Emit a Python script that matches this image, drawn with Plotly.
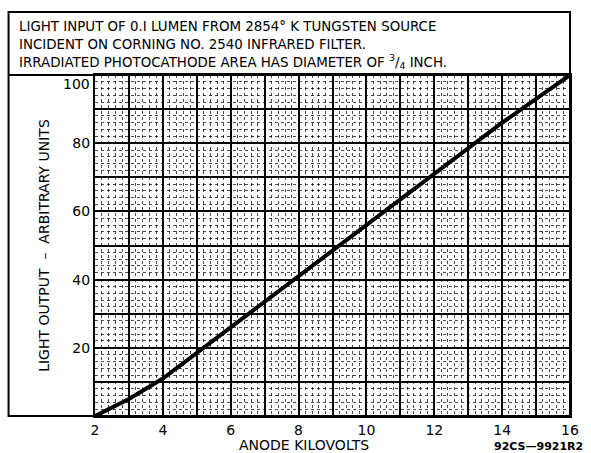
import plotly.graph_objects as go

# Data
kilovolts = [2, 3, 4, 5, 6, 7, 8, 9, 10, 11, 12, 13, 14, 15, 16]
light_output = [0, 5, 11, 18.5, 26, 33.5, 41, 48.5, 56, 63.5, 71, 78.5, 86, 93, 100]

x_tickvals = list(range(2, 17))
x_ticktext = [str(v) if v % 2 == 0 else "" for v in x_tickvals]
y_tickvals = list(range(0, 101, 10))
y_ticktext = [str(v) if (v % 20 == 0 and 0 < v < 100) else "" for v in y_tickvals]
top_label = "100"

title_lines = [
    "LIGHT INPUT OF 0.I LUMEN FROM 2854° K TUNGSTEN SOURCE",
    "INCIDENT ON CORNING NO. 2540 INFRARED FILTER.",
    "IRRADIATED PHOTOCATHODE AREA HAS DIAMETER OF <sup>3</sup>/<sub>4</sub> INCH.",
]

FONT = "DejaVu Sans"

fig = go.Figure()
fig.add_trace(go.Scatter(x=kilovolts, y=light_output, mode="lines",
                         line=dict(color="black", width=4), showlegend=False,
                         hoverinfo="skip"))

L, R, T, B = 95, 18, 75, 37
W, H = 591, 453
pw = W - L - R
ph = H - T - B

tickfont = dict(family=FONT, size=14, color="black")

fig.update_layout(
    width=W, height=H,
    margin=dict(l=L, r=R, t=T, b=B),
    paper_bgcolor="white", plot_bgcolor="white",
    font=dict(family=FONT, color="black", size=12),
    xaxis=dict(range=[2, 16], tickvals=x_tickvals, ticktext=x_ticktext,
               showgrid=True, gridcolor="black", gridwidth=1.6,
               showline=True, linecolor="black", linewidth=2, mirror=True,
               ticks="", zeroline=False, tickfont=tickfont,
               minor=dict(dtick=0.2, showgrid=True, gridcolor="rgba(0,0,0,0.7)",
                          gridwidth=1, griddash="dot")),
    yaxis=dict(range=[0, 100], tickvals=y_tickvals, ticktext=y_ticktext,
               showgrid=True, gridcolor="black", gridwidth=1.6,
               showline=True, linecolor="black", linewidth=2, mirror=True,
               ticks="", zeroline=False, tickfont=tickfont,
               minor=dict(dtick=2, showgrid=True, gridcolor="rgba(0,0,0,0.7)",
                          gridwidth=1, griddash="dot")),
)

# "100" label sits a little below the top edge in the reference
fig.add_annotation(xref="paper", yref="y", x=0, y=y_tickvals[-1] - 2.5,
                   text=top_label, showarrow=False, xanchor="right",
                   yanchor="middle", xshift=-3, font=tickfont)

# outer frame
x0 = (8 - L) / pw
ytop = (H - B - 12) / ph
fig.add_shape(type="rect", xref="paper", yref="paper", x0=x0, x1=1, y0=0, y1=ytop,
              line=dict(color="black", width=2), layer="above")
fig.add_shape(type="line", xref="paper", yref="paper", x0=x0, x1=1, y0=1, y1=1,
              line=dict(color="black", width=2), layer="above")

# title lines
for i, txt in enumerate(title_lines):
    ypx = 27 + i * 17
    fig.add_annotation(xref="paper", yref="paper", x=(17 - L) / pw,
                       y=(H - B - ypx) / ph, text=txt, showarrow=False,
                       xanchor="left", yanchor="middle",
                       font=dict(family=FONT, size=13.4, color="black"))

# y title
fig.add_annotation(xref="paper", yref="paper", x=(43 - L) / pw, y=0.5,
                   text="LIGHT OUTPUT  –  ARBITRARY UNITS", textangle=-90,
                   showarrow=False, xanchor="center", yanchor="middle",
                   font=dict(family=FONT, size=14, color="black"))
# x title
fig.add_annotation(xref="paper", yref="paper", x=(305 - L) / pw,
                   y=(H - B - 445) / ph, text="ANODE KILOVOLTS", showarrow=False,
                   xanchor="center", yanchor="middle",
                   font=dict(family=FONT, size=14, color="black"))
# figure code
fig.add_annotation(xref="paper", yref="paper", x=(588 - L) / pw,
                   y=(H - B - 446) / ph, text="<b>92CS—9921R2</b>", showarrow=False,
                   xanchor="right", yanchor="middle",
                   font=dict(family=FONT, size=11, color="black"))

fig.write_html("out.html", config={"displayModeBar": False},
               post_script="document.body.style.margin='0';"
                           "document.body.style.overflow='hidden';")
